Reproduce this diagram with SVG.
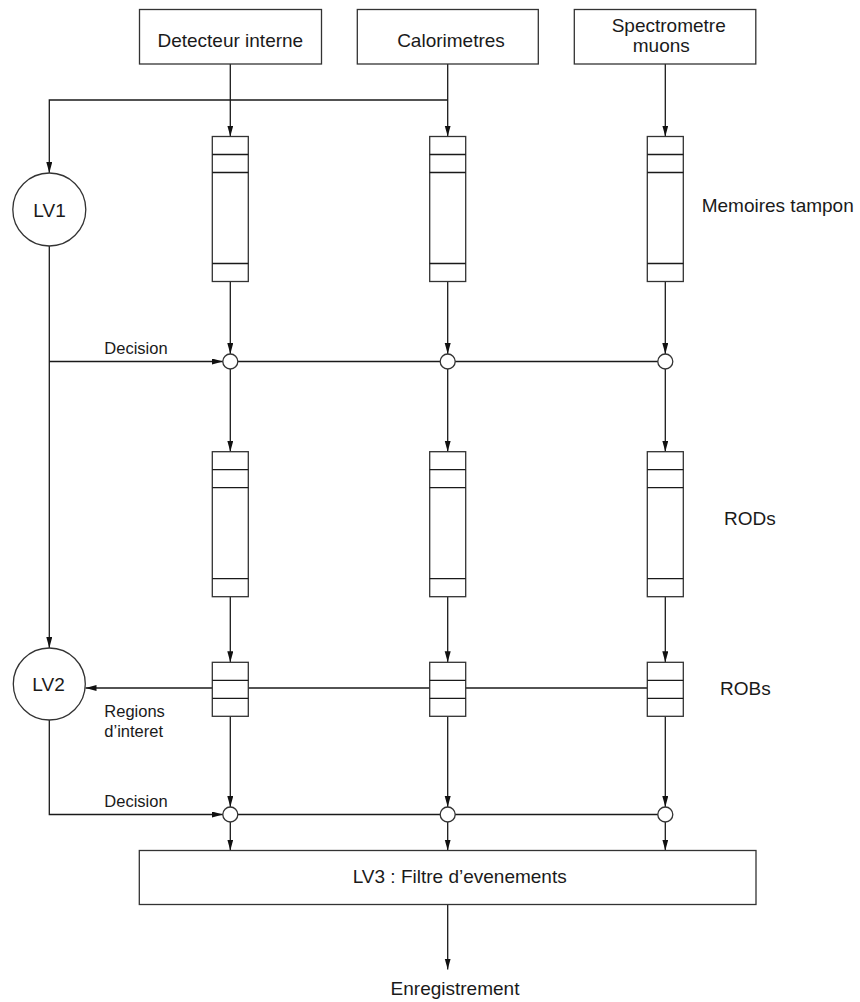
<svg xmlns="http://www.w3.org/2000/svg" width="860" height="1002" viewBox="0 0 860 1002">
<style>
.box{fill:#fff;stroke:#333;stroke-width:1.3}
.ln{fill:none;stroke:#1a1a1a;stroke-width:1.3}
.arr{marker-end:url(#ah)}
.t{font-family:"Liberation Sans",Arial,sans-serif;font-size:19px;fill:#1a1a1a}
.s{font-family:"Liberation Sans",Arial,sans-serif;font-size:16.5px;fill:#1a1a1a}
.m{text-anchor:middle}
</style>
<defs>
<marker id="ah" markerUnits="userSpaceOnUse" markerWidth="12" markerHeight="7" refX="11" refY="3" orient="auto">
<path d="M0,0 L11,3 L0,6 z" fill="#111"/>
</marker>
<g id="buf">
<rect class="box" x="-18" y="0" width="36" height="145"/>
<line class="ln" x1="-18" y1="18" x2="18" y2="18"/>
<line class="ln" x1="-18" y1="36" x2="18" y2="36"/>
<line class="ln" x1="-18" y1="127" x2="18" y2="127"/>
</g>
<g id="rob">
<rect class="box" x="-18" y="0" width="36" height="54"/>
<line class="ln" x1="-18" y1="18" x2="18" y2="18"/>
<line class="ln" x1="-18" y1="36" x2="18" y2="36"/>
</g>
</defs>
<rect width="860" height="1002" fill="#fff"/>

<g id="connectors">
<line class="ln arr" x1="230.3" y1="64" x2="230.3" y2="136.5"/>
<line class="ln arr" x1="447.7" y1="64" x2="447.7" y2="136.5"/>
<line class="ln arr" x1="665.3" y1="64" x2="665.3" y2="136.5"/>
<path class="ln arr" d="M447.7,100 H49.3 V173"/>
<line class="ln arr" x1="49.3" y1="246" x2="49.3" y2="648"/>
<line class="ln arr" x1="230.3" y1="281.5" x2="230.3" y2="354"/>
<line class="ln arr" x1="447.7" y1="281.5" x2="447.7" y2="354"/>
<line class="ln arr" x1="665.3" y1="281.5" x2="665.3" y2="354"/>
<line class="ln arr" x1="49.3" y1="361.5" x2="223" y2="361.5"/>
<line class="ln" x1="238" y1="361.5" x2="658" y2="361.5"/>
<line class="ln arr" x1="230.3" y1="369" x2="230.3" y2="451.7"/>
<line class="ln arr" x1="447.7" y1="369" x2="447.7" y2="451.7"/>
<line class="ln arr" x1="665.3" y1="369" x2="665.3" y2="451.7"/>
<line class="ln arr" x1="230.3" y1="596.7" x2="230.3" y2="662.3"/>
<line class="ln arr" x1="447.7" y1="596.7" x2="447.7" y2="662.3"/>
<line class="ln arr" x1="665.3" y1="596.7" x2="665.3" y2="662.3"/>
<line class="ln arr" x1="647.3" y1="688" x2="85.5" y2="688"/>
<line class="ln arr" x1="230.3" y1="716.3" x2="230.3" y2="807"/>
<line class="ln arr" x1="447.7" y1="716.3" x2="447.7" y2="807"/>
<line class="ln arr" x1="665.3" y1="716.3" x2="665.3" y2="807"/>
<path class="ln arr" d="M49.3,720 V814.5 H223"/>
<line class="ln" x1="238" y1="814.5" x2="658" y2="814.5"/>
<line class="ln arr" x1="230.3" y1="822" x2="230.3" y2="850.5"/>
<line class="ln arr" x1="447.7" y1="822" x2="447.7" y2="850.5"/>
<line class="ln arr" x1="665.3" y1="822" x2="665.3" y2="850.5"/>
<line class="ln arr" x1="447.7" y1="904.5" x2="447.7" y2="969.5"/>
</g>

<g id="det"><rect class="box" x="139.5" y="9.5" width="182" height="54.5"/><text class="t m" x="230.3" y="46.5">Detecteur interne</text></g>
<g id="calo"><rect class="box" x="357.3" y="9.5" width="181" height="54.5"/><text class="t m" x="451" y="46.5">Calorimetres</text></g>
<g id="spectro"><rect class="box" x="574.3" y="9.5" width="181.5" height="54.5"/><text class="t m" x="668.7" y="32">Spectrometre</text><text class="t m" x="661.3" y="52.3">muons</text></g>

<g id="lv1"><circle class="box" cx="49.3" cy="209.5" r="36.5"/><text class="t m" x="49.5" y="216.5">LV1</text></g>
<g id="lv2"><circle class="box" cx="49.3" cy="684" r="36"/><text class="t m" x="48.5" y="690.7">LV2</text></g>

<g id="buf1"><use href="#buf" x="230.3" y="136.5"/></g>
<g id="buf2"><use href="#buf" x="447.7" y="136.5"/></g>
<g id="buf3"><use href="#buf" x="665.3" y="136.5"/></g>
<g id="rod1"><use href="#buf" x="230.3" y="451.7"/></g>
<g id="rod2"><use href="#buf" x="447.7" y="451.7"/></g>
<g id="rod3"><use href="#buf" x="665.3" y="451.7"/></g>
<g id="rob1"><use href="#rob" x="230.3" y="662.3"/></g>
<g id="rob2"><use href="#rob" x="447.7" y="662.3"/></g>
<g id="rob3"><use href="#rob" x="665.3" y="662.3"/></g>

<g id="j1a"><circle class="box" cx="230.3" cy="361.5" r="7.5"/></g>
<g id="j1b"><circle class="box" cx="447.7" cy="361.5" r="7.5"/></g>
<g id="j1c"><circle class="box" cx="665.3" cy="361.5" r="7.5"/></g>
<g id="j2a"><circle class="box" cx="230.3" cy="814.5" r="7.5"/></g>
<g id="j2b"><circle class="box" cx="447.7" cy="814.5" r="7.5"/></g>
<g id="j2c"><circle class="box" cx="665.3" cy="814.5" r="7.5"/></g>

<g id="lv3"><rect class="box" x="139.3" y="850.5" width="616.7" height="54"/><text class="t m" x="459.7" y="883.3">LV3 : Filtre d’evenements</text></g>

<g id="labels">
<text class="t" x="701.7" y="212">Memoires tampon</text>
<text class="t" x="724" y="525">RODs</text>
<text class="t" x="720" y="695">ROBs</text>
<text class="s" x="104.3" y="354">Decision</text>
<text class="s" x="104.3" y="716.7">Regions</text>
<text class="s" x="104.3" y="736.7">d’interet</text>
<text class="s" x="104.3" y="807.3">Decision</text>
<text class="t m" x="455" y="995">Enregistrement</text>
</g>
</svg>
